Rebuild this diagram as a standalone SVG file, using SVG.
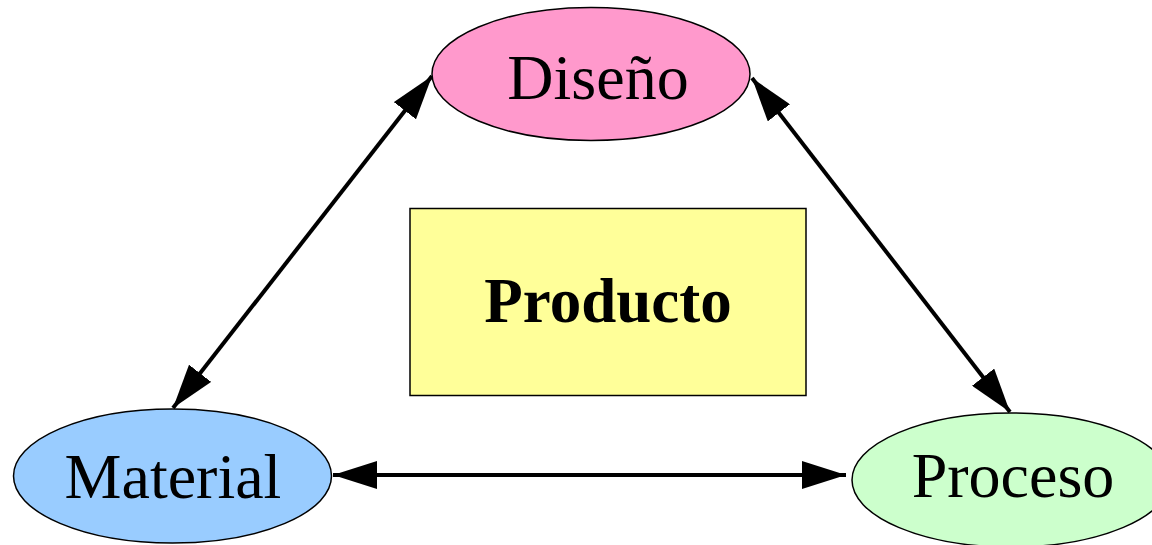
<svg xmlns="http://www.w3.org/2000/svg" width="1152" height="545" viewBox="0 0 1152 545">
  <style>
    .node { stroke: #000; stroke-width: 1.5; }
    .label { font-family: "Liberation Serif", "Times New Roman", serif; font-size: 64px; fill: #000; text-anchor: middle; }
    .bold { font-weight: bold; font-size: 63px; }
    .edge { stroke: #000; stroke-width: 4; fill: none; marker-start: url(#arrow); marker-end: url(#arrow); }
  </style>
  <defs>
    <marker id="arrow" markerUnits="userSpaceOnUse" markerWidth="44" markerHeight="28" viewBox="0 0 44 28" refX="44" refY="14" orient="auto-start-reverse">
      <path d="M0,0 L44,14 L0,28 z" fill="#000"/>
    </marker>
  </defs>
  <rect width="1152" height="545" fill="#fff"/>

  <g id="connectors">
    <line class="edge" x1="173" y1="408" x2="432" y2="76"/>
    <line class="edge" x1="752" y1="78" x2="1010" y2="412"/>
    <line class="edge" x1="333" y1="475" x2="846" y2="475"/>
  </g>

  <g id="producto">
    <rect class="node" x="410" y="208.5" width="396" height="187" fill="#ffff99"/>
    <text class="label bold" x="608" y="322">Producto</text>
  </g>

  <g id="diseno">
    <ellipse class="node" cx="591" cy="74" rx="159" ry="66.5" fill="#ff99cc"/>
    <text class="label" x="598" y="99">Diseño</text>
  </g>

  <g id="material">
    <ellipse class="node" cx="172.5" cy="476" rx="159" ry="67" fill="#99ccff"/>
    <text class="label" x="173" y="498">Material</text>
  </g>

  <g id="proceso">
    <ellipse class="node" cx="1011" cy="480" rx="159" ry="67" fill="#ccffcc"/>
    <text class="label" x="1013" y="497">Proceso</text>
  </g>
</svg>
